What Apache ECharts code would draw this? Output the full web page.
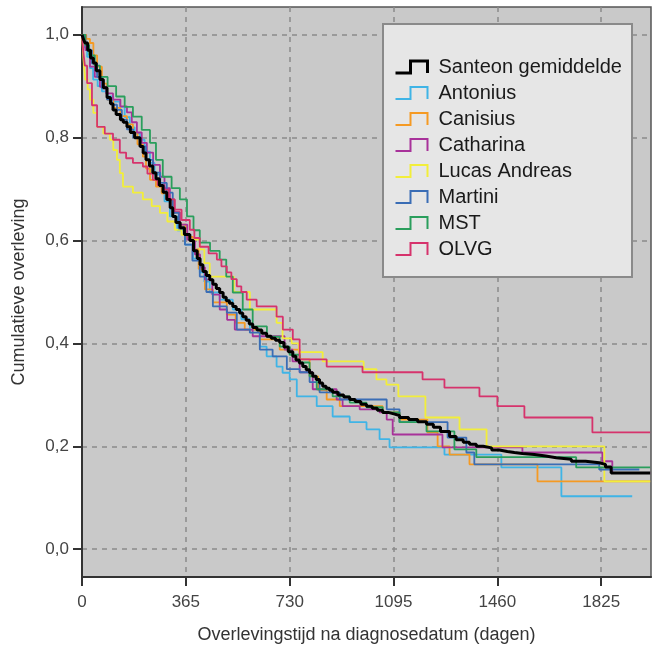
<!DOCTYPE html>
<html>
<head>
<meta charset="utf-8">
<script src="https://cdn.jsdelivr.net/npm/echarts@6/dist/echarts.min.js"></script>
<style>
  html, body { margin: 0; padding: 0; background: #fff; }
  #chart { width: 656px; height: 650px; }
</style>
</head>
<body>
<div id="chart"></div>
<script>
// Kaplan-Meier curves: [dag, cumulatieve overleving]
const santeon = [[0,1],[6,.99],[11,.984],[20,.97],[30,.955],[40,.945],[50,.93],[63,.913],[75,.897],[88,.878],[100,.866],[109,.854],[120,.845],[135,.835],[145,.83],[158,.821],[170,.81],[185,.8],[204,.783],[215,.77],[225,.757],[237,.745],[249,.732],[260,.72],[272,.707],[285,.694],[298,.68],[310,.664],[319,.647],[330,.635],[345,.625],[360,.612],[379,.6],[392,.58],[405,.565],[415,.553],[425,.54],[437,.532],[449,.524],[460,.515],[472,.507],[484,.499],[496,.49],[507,.483],[518,.478],[530,.472],[542,.466],[554,.459],[565,.452],[577,.445],[588,.438],[600,.431],[615,.426],[632,.42],[649,.414],[665,.41],[680,.406],[695,.402],[710,.393],[725,.384],[741,.375],[752,.368],[764,.362],[776,.355],[788,.349],[800,.343],[811,.336],[823,.33],[835,.323],[846,.317],[858,.313],[870,.309],[881,.305],[900,.3],[920,.296],[941,.291],[960,.287],[980,.282],[1000,.278],[1020,.274],[1038,.27],[1057,.266],[1076,.263],[1096,.26],[1116,.256],[1148,.252],[1180,.248],[1211,.243],[1235,.237],[1260,.229],[1292,.219],[1315,.213],[1340,.208],[1362,.204],[1386,.2],[1410,.197],[1440,.193],[1467,.19],[1495,.188],[1520,.186],[1548,.184],[1590,.181],[1630,.178],[1667,.175],[1720,.171],[1770,.168],[1818,.165],[1840,.16],[1860,.148],[1997,.148]]
const antonius = [[0,1],[10,.975],[18,.957],[28,.935],[39,.913],[55,.9],[70,.89],[88,.88],[110,.87],[133,.86],[150,.84],[168,.82],[185,.808],[204,.796],[220,.773],[239,.751],[255,.728],[274,.705],[290,.676],[309,.647],[335,.62],[362,.592],[390,.565],[414,.538],[430,.52],[449,.499],[484,.485],[530,.466],[560,.447],[590,.427],[625,.394],[649,.375],[684,.355],[705,.343],[730,.33],[755,.297],[825,.278],[881,.258],[941,.247],[1000,.233],[1046,.214],[1081,.198],[1274,.184],[1474,.159],[1685,.103],[1934,.103]]
const canisius = [[0,1],[15,.992],[28,.984],[40,.96],[53,.938],[70,.905],[88,.874],[110,.858],[135,.842],[158,.826],[179,.81],[195,.787],[214,.763],[225,.74],[239,.718],[260,.705],[280,.692],[298,.68],[320,.655],[344,.631],[365,.607],[390,.583],[410,.545],[432,.505],[460,.48],[509,.456],[540,.44],[572,.427],[625,.408],[695,.388],[765,.369],[800,.336],[830,.31],[860,.291],[906,.278],[1057,.266],[1116,.252],[1214,.227],[1250,.2],[1292,.184],[1362,.165],[1601,.132],[1997,.132]]
const catharina = [[0,1],[12,.97],[28,.938],[45,.918],[63,.899],[85,.886],[109,.874],[135,.861],[158,.849],[175,.83],[193,.81],[210,.79],[228,.771],[250,.747],[274,.724],[290,.702],[309,.68],[325,.655],[344,.631],[370,.602],[397,.573],[415,.548],[432,.524],[458,.495],[484,.466],[510,.446],[537,.427],[600,.414],[712,.388],[740,.365],[765,.344],[811,.311],[895,.291],[916,.278],[976,.272],[1046,.266],[1071,.252],[1092,.223],[1267,.198],[1548,.188],[1829,.171],[1864,.148],[1997,.148]]
const lucas = [[0,1],[5,.955],[11,.913],[20,.894],[28,.874],[40,.848],[53,.821],[75,.808],[98,.796],[110,.776],[123,.757],[133,.731],[144,.705],[179,.693],[214,.68],[245,.667],[274,.654],[300,.637],[326,.621],[350,.611],[379,.602],[414,.583],[430,.556],[449,.53],[534,.5],[590,.466],[684,.44],[705,.41],[737,.4],[762,.383],[846,.365],[990,.35],[1035,.33],[1070,.32],[1112,.297],[1207,.256],[1327,.233],[1422,.2],[1836,.132],[1997,.132]]
const martini = [[0,1],[8,.985],[18,.97],[35,.944],[53,.918],[70,.896],[88,.874],[105,.864],[123,.854],[140,.835],[158,.816],[180,.8],[204,.783],[225,.757],[249,.732],[275,.712],[298,.693],[319,.654],[340,.623],[362,.592],[388,.561],[414,.53],[437,.5],[460,.472],[509,.46],[544,.427],[590,.421],[625,.388],[670,.375],[720,.35],[765,.344],[800,.325],[835,.305],[906,.291],[1071,.272],[1116,.247],[1285,.217],[1351,.188],[1379,.165],[1818,.155],[1959,.155]]
const mst = [[0,1],[12,.98],[25,.96],[45,.94],[63,.918],[90,.9],[120,.88],[150,.86],[179,.841],[210,.815],[239,.79],[260,.757],[284,.724],[315,.702],[344,.68],[369,.647],[392,.62],[414,.596],[450,.58],[484,.563],[507,.53],[530,.499],[565,.466],[600,.433],[650,.413],[695,.394],[730,.378],[765,.363],[800,.336],[825,.311],[881,.297],[941,.285],[1000,.276],[1057,.266],[1116,.247],[1211,.229],[1309,.194],[1386,.179],[1737,.159],[1997,.159]]
const olvg = [[0,1],[4,.97],[10,.94],[18,.906],[35,.863],[53,.821],[80,.808],[109,.796],[133,.771],[155,.76],[179,.751],[214,.744],[230,.73],[249,.718],[266,.708],[284,.699],[305,.68],[326,.66],[350,.64],[379,.621],[395,.605],[414,.588],[445,.575],[474,.563],[490,.55],[509,.538],[525,.525],[544,.511],[560,.5],[579,.485],[614,.472],[684,.452],[706,.427],[741,.408],[765,.369],[860,.355],[986,.344],[1197,.33],[1274,.314],[1397,.297],[1460,.278],[1555,.256],[1794,.227],[1997,.227]]

const names = ['Santeon gemiddelde', 'Antonius', 'Canisius', 'Catharina', 'Lucas Andreas', 'Martini', 'MST', 'OLVG']
const colors = ['#000000', '#3fb4e6', '#f59a23', '#a8329a', '#f2ee3a', '#3a6db5', '#2a9e5c', '#d6336c']
const curves = [santeon, antonius, canisius, catharina, lucas, martini, mst, olvg]

const xTicks = [0, 365, 730, 1095, 1460, 1825]
const yTicks = [0, 0.2, 0.4, 0.6, 0.8, 1.0]

const font = 'Liberation Sans'
const chart = echarts.init(document.getElementById('chart'))

const stepIcon = 'path://M0,12 L15,12 L15,0 L32,0 L32,12'

// zwart als laatste tekenen zodat hij bovenop ligt
const order = [1, 2, 3, 4, 5, 6, 7, 0]

chart.setOption({
  animation: false,
  textStyle: { fontFamily: font },
  grid: {
    left: 82,
    right: 5,
    top: 7,
    bottom: 73,
    show: true,
    backgroundColor: '#c9c9c9',
    borderColor: '#555',
    borderWidth: 1.5,
  },
  graphic: [
    {
      type: 'rect',
      z: 3,
      shape: { x: 383, y: 24, width: 249, height: 253 },
      style: { fill: '#e6e6e6', stroke: '#8a8a8a', lineWidth: 2 },
    },
  ],
  legend: {
    orient: 'vertical',
    left: 393,
    top: 57,
    padding: 0,
    itemWidth: 34,
    itemHeight: 12,
    itemGap: 6,
    selectedMode: false,
    textStyle: {
      fontFamily: font,
      fontSize: 20,
      lineHeight: 20,
      color: '#1a1a1a',
      padding: [0, 0, 0, 5],
    },
    data: names.map((n, i) => ({
      name: n,
      icon: stepIcon,
      itemStyle: { color: 'none', borderColor: colors[i], borderWidth: i === 0 ? 3 : 2 },
    })),
  },
  xAxis: {
    type: 'value',
    min: 0,
    max: 2000,
    name: 'Overlevingstijd na diagnosedatum (dagen)',
    nameLocation: 'middle',
    nameGap: 49,
    nameTextStyle: { fontFamily: font, fontSize: 18, color: '#333' },
    axisLine: { onZero: false, lineStyle: { color: '#333', width: 2 } },
    axisTick: { customValues: xTicks, length: 9, lineStyle: { color: '#333', width: 2 } },
    axisLabel: {
      customValues: xTicks,
      fontFamily: font,
      fontSize: 17,
      color: '#444',
      margin: 17,
      formatter: v => String(v),
    },
    splitLine: { show: true, lineStyle: { color: '#8a8a8a', type: [5, 5], width: 1.5 } },
  },
  yAxis: {
    type: 'value',
    min: -0.054,
    max: 1.054,
    name: 'Cumulatieve overleving',
    nameLocation: 'middle',
    nameGap: 54,
    nameTextStyle: { fontFamily: font, fontSize: 18, color: '#333' },
    axisLine: { show: true, onZero: false, lineStyle: { color: '#333', width: 2 } },
    axisTick: { show: true, customValues: yTicks, length: 9, lineStyle: { color: '#333', width: 2 } },
    axisLabel: {
      customValues: yTicks,
      fontFamily: font,
      fontSize: 17,
      color: '#444',
      margin: 13,
      formatter: v => v.toFixed(1).replace('.', ','),
    },
    splitLine: { show: true, lineStyle: { color: '#8a8a8a', type: [5, 5], width: 1.5 } },
  },
  series: order.map(i => ({
    name: names[i],
    type: 'line',
    step: 'end',
    showSymbol: false,
    symbol: 'none',
    z: i === 0 ? 3 : 2,
    lineStyle: { color: colors[i], width: i === 0 ? 3 : 1.8 },
    itemStyle: { color: colors[i] },
    data: curves[i],
  })),
})
</script>
</body>
</html>
